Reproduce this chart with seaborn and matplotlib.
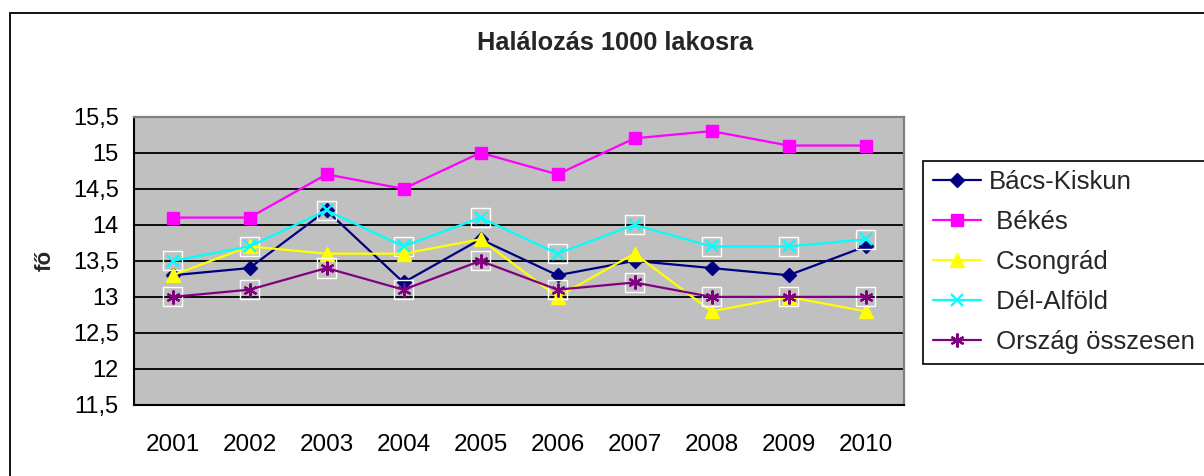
import matplotlib
matplotlib.use("Agg")
import matplotlib.pyplot as plt
import matplotlib.patches as mpatches
from matplotlib.ticker import FuncFormatter, MultipleLocator, FixedLocator
import seaborn as sns
import pandas as pd

years = ["2001", "2002", "2003", "2004", "2005", "2006", "2007", "2008", "2009", "2010"]
bacs_kiskun = [13.3, 13.4, 14.2, 13.2, 13.8, 13.3, 13.5, 13.4, 13.3, 13.7]
bekes = [14.1, 14.1, 14.7, 14.5, 15.0, 14.7, 15.2, 15.3, 15.1, 15.1]
csongrad = [13.3, 13.7, 13.6, 13.6, 13.8, 13.0, 13.6, 12.8, 13.0, 12.8]
del_alfold = [13.5, 13.7, 14.2, 13.7, 14.1, 13.6, 14.0, 13.7, 13.7, 13.8]
orszag = [13.0, 13.1, 13.4, 13.1, 13.5, 13.1, 13.2, 13.0, 13.0, 13.0]

series_names = ["Bács-Kiskun", " Békés", " Csongrád", " Dél-Alföld", " Ország összesen"]
title = "Halálozás 1000 lakosra"
ylabel = "fő"

sns.set_style("white")
plt.rcParams["font.family"] = ["Liberation Sans", "DejaVu Sans"]

W, H = 1204, 476
fig = plt.figure(figsize=(W / 100, H / 100), dpi=100)

# outer chart border (cropped on right and bottom in reference)
fig.patches.append(mpatches.Rectangle((10 / W, -0.2), 1.2, 1.2 - 13 / H,
                                      transform=fig.transFigure, fill=False,
                                      edgecolor="black", linewidth=1.3, zorder=0))

ax = fig.add_axes([134 / W, 1 - 405 / H, (904 - 134) / W, (405 - 116.7) / H])
ax.set_facecolor("#C0C0C0")

styles = [
    dict(color="#000080", marker="D", markersize=7, mew=1),
    dict(color="#FF00FF", marker="s", markersize=8.5, mew=1),
    dict(color="#FFFF00", marker="^", markersize=10, mew=1),
    dict(color="#00FFFF", marker="x", markersize=9, mew=1.6),
    dict(color="#800080", marker=(6, 2, 0), markersize=10, mew=1.6),
]
data_list = [bacs_kiskun, bekes, csongrad, del_alfold, orszag]

# white square outline behind x and * markers (Excel style)
for idx in (3, 4):
    sns.scatterplot(x=years, y=data_list[idx], ax=ax, marker="s", s=190,
                    facecolor="none", edgecolor="white", linewidth=1.0,
                    zorder=3 + idx, legend=False)

for i, (name, vals, st) in enumerate(zip(series_names, data_list, styles)):
    sns.lineplot(x=years, y=vals, ax=ax, color=st["color"], marker=st["marker"],
                 markersize=st["markersize"], markeredgewidth=st["mew"],
                 markeredgecolor=st["color"], markerfacecolor=st["color"],
                 linewidth=1.6, label=name, zorder=4 + i)

ax.set_xlim(-0.5, 9.5)
ax.set_ylim(11.5, 15.5)
ax.yaxis.set_major_locator(MultipleLocator(0.5))
ax.yaxis.set_major_formatter(FuncFormatter(lambda v, p: f"{v:g}".replace(".", ",")))
ax.grid(axis="y", color="black", linewidth=1.3)
ax.grid(axis="x", visible=False)
ax.set_axisbelow(True)

# x ticks at category boundaries, labels centered
ax.xaxis.set_major_locator(FixedLocator(range(10)))
ax.set_xticks([i - 0.5 for i in range(11)], minor=True)
ax.tick_params(axis="x", which="major", length=0, labelsize=17.5, pad=21)
ax.tick_params(axis="x", which="minor", length=7, width=1.3, color="black", direction="out")
ax.tick_params(axis="y", which="major", length=6, width=1.3, color="black",
               direction="out", labelsize=17, pad=5)
ax.set_xticklabels(years)
ax.tick_params(axis="both", labelcolor="black")

for side in ("left", "bottom"):
    ax.spines[side].set_color("black")
    ax.spines[side].set_linewidth(1.5)
for side in ("top", "right"):
    ax.spines[side].set_color("#808080")
    ax.spines[side].set_linewidth(1.6)

ax.set_xlabel("")
ax.set_ylabel(ylabel, fontsize=16, fontweight="bold")
ax.yaxis.set_label_coords(-0.102, 0.5)

fig.text(615 / W, 1 - 43 / H, title, ha="center", va="center",
         fontsize=18.3, fontweight="bold")

leg = ax.legend(loc="upper left",
                bbox_to_anchor=(923 / W, 1 - 359 / H, 320 / W, (359 - 160.7) / H),
                bbox_transform=fig.transFigure, mode="expand",
                frameon=True, fancybox=False, edgecolor="black", framealpha=1,
                fontsize=18.5, handlelength=1.87, handletextpad=0.3,
                labelspacing=0.62, borderpad=0.38, borderaxespad=0)
leg.get_frame().set_linewidth(1.2)

fig.savefig("out.png", dpi=100)
